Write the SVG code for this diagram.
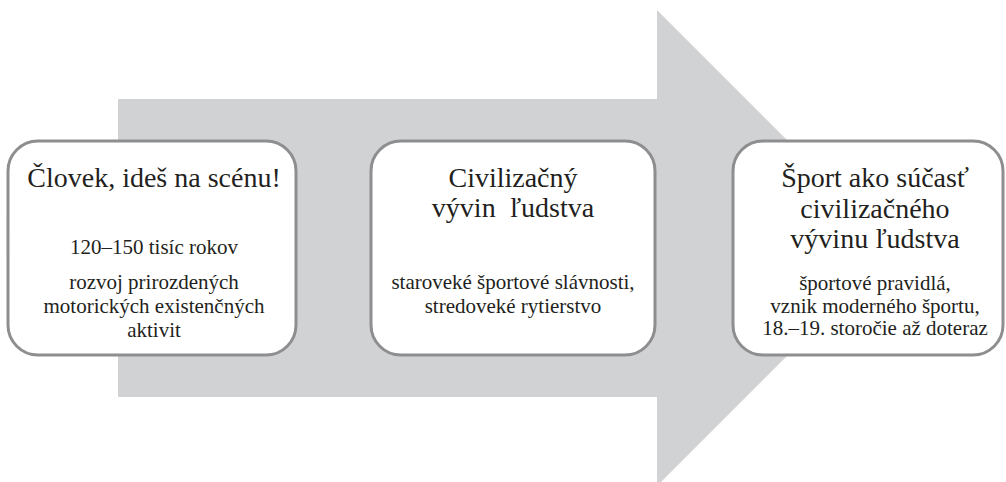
<svg xmlns="http://www.w3.org/2000/svg" width="1006" height="482" viewBox="0 0 1006 482">
<style>
.box{fill:#ffffff;stroke:#8e8e90;stroke-width:3}
text{font-family:'Liberation Serif','DejaVu Serif',serif;fill:#231f20;text-anchor:middle}
.h{font-size:28px}
.s{font-size:21px}
</style>
<rect width="1006" height="482" fill="#ffffff"/>
<g id="arrow">
<polygon points="118,99 657,99 657,10 895,248 657,486 657,397 118,397" fill="#d1d2d4"/>
</g>
<g id="connectors"></g>
<g id="node1" font-family="Liberation Serif, serif">
<rect class="box" x="8" y="141" width="288" height="214" rx="30" ry="30"/>
<text class="h" x="154" y="187">Človek, ideš na scénu!</text>
<text class="s" x="154" y="254">120–150 tisíc rokov</text>
<text class="s" x="154" y="289">rozvoj prirozdených</text>
<text class="s" x="154" y="313">motorických existenčných</text>
<text class="s" x="154" y="337">aktivit</text>
</g>
<g id="node2" font-family="Liberation Serif, serif">
<rect class="box" x="371" y="141" width="284" height="214" rx="30" ry="30"/>
<text class="h" x="513" y="187">Civilizačný</text>
<text class="h" x="513" y="217" xml:space="preserve">vývin  ľudstva</text>
<text class="s" x="513" y="289">staroveké športové slávnosti,</text>
<text class="s" x="513" y="313">stredoveké rytierstvo</text>
</g>
<g id="node3" font-family="Liberation Serif, serif">
<rect class="box" x="733" y="141" width="270" height="214" rx="30" ry="30"/>
<text class="h" x="875" y="187">Šport ako súčasť</text>
<text class="h" x="875" y="218">civilizačného</text>
<text class="h" x="875" y="248">vývinu ľudstva</text>
<text class="s" x="875" y="290">športové pravidlá,</text>
<text class="s" x="875" y="313">vznik moderného športu,</text>
<text class="s" x="875" y="335">18.–19. storočie až doteraz</text>
</g>
</svg>
